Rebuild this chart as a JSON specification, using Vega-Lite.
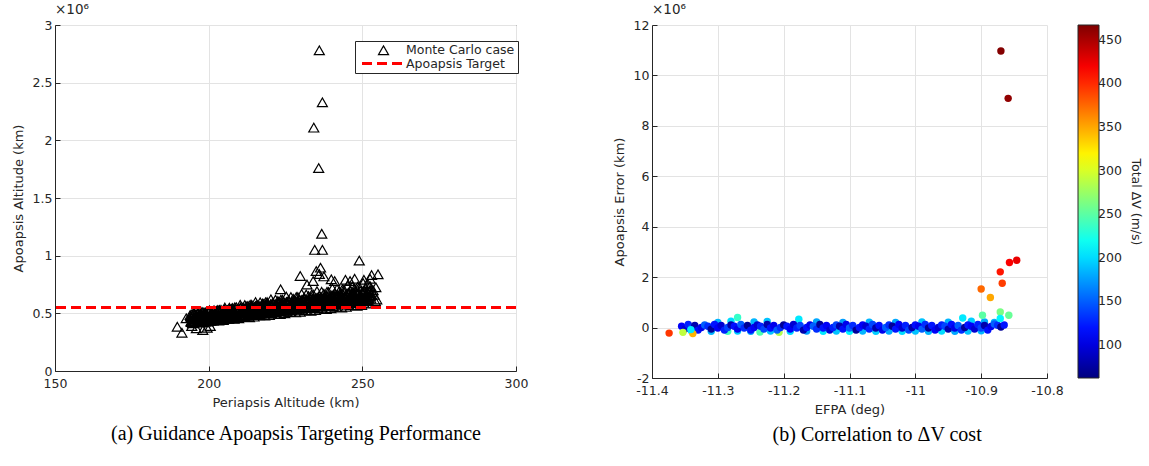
{
  "$schema": "https://vega.github.io/schema/vega-lite/v6.json",
  "background": "white",
  "padding": {"left": 11, "top": 2, "right": 3, "bottom": 5},
  "config": {
    "font": "DejaVu Sans",
    "axis": {
      "labelFont": "DejaVu Sans", "titleFont": "DejaVu Sans",
      "labelFontSize": 12.5, "titleFontSize": 13, "titleFontWeight": "normal",
      "labelColor": "#262626", "titleColor": "#262626",
      "gridColor": "#e3e3e3", "gridWidth": 1,
      "tickColor": "#262626", "domainColor": "#262626",
      "tickSize": -5, "labelPadding": 8, "titlePadding": 7, "labelFlush": false
    },
    "axisX": {"labelPadding": 11}
  },
  "datasets": {
    "apo": [
      {"peri":194,"apo":0.486},{"peri":194.25,"apo":0.431},{"peri":194.5,"apo":0.458},{"peri":194.75,"apo":0.413},
      {"peri":195,"apo":0.448},{"peri":195.25,"apo":0.503},{"peri":195.5,"apo":0.426},{"peri":195.75,"apo":0.476},
      {"peri":196,"apo":0.485},{"peri":196.25,"apo":0.456},{"peri":196.5,"apo":0.424},{"peri":196.75,"apo":0.503},
      {"peri":197,"apo":0.436},{"peri":197.25,"apo":0.476},{"peri":197.5,"apo":0.497},{"peri":197.75,"apo":0.447},
      {"peri":198,"apo":0.467},{"peri":198.25,"apo":0.423},{"peri":198.5,"apo":0.507},{"peri":198.75,"apo":0.460},
      {"peri":199,"apo":0.508},{"peri":199.25,"apo":0.447},{"peri":199.5,"apo":0.476},{"peri":199.75,"apo":0.428},
      {"peri":200,"apo":0.464},{"peri":200.25,"apo":0.526},{"peri":200.5,"apo":0.440},{"peri":200.75,"apo":0.496},
      {"peri":201,"apo":0.506},{"peri":201.25,"apo":0.473},{"peri":201.5,"apo":0.438},{"peri":201.75,"apo":0.526},
      {"peri":202,"apo":0.452},{"peri":202.25,"apo":0.496},{"peri":202.5,"apo":0.519},{"peri":202.75,"apo":0.464},
      {"peri":203,"apo":0.485},{"peri":203.25,"apo":0.437},{"peri":203.5,"apo":0.529},{"peri":203.75,"apo":0.477},
      {"peri":204,"apo":0.530},{"peri":204.25,"apo":0.463},{"peri":204.5,"apo":0.494},{"peri":204.75,"apo":0.442},
      {"peri":205,"apo":0.481},{"peri":205.25,"apo":0.550},{"peri":205.5,"apo":0.456},{"peri":205.75,"apo":0.516},
      {"peri":206,"apo":0.527},{"peri":206.25,"apo":0.490},{"peri":206.5,"apo":0.453},{"peri":206.75,"apo":0.549},
      {"peri":207,"apo":0.467},{"peri":207.25,"apo":0.515},{"peri":207.5,"apo":0.540},{"peri":207.75,"apo":0.480},
      {"peri":208,"apo":0.502},{"peri":208.25,"apo":0.452},{"peri":208.5,"apo":0.552},{"peri":208.75,"apo":0.494},
      {"peri":209,"apo":0.552},{"peri":209.25,"apo":0.479},{"peri":209.5,"apo":0.512},{"peri":209.75,"apo":0.457},
      {"peri":210,"apo":0.498},{"peri":210.25,"apo":0.574},{"peri":210.5,"apo":0.471},{"peri":210.75,"apo":0.536},
      {"peri":211,"apo":0.548},{"peri":211.25,"apo":0.507},{"peri":211.5,"apo":0.468},{"peri":211.75,"apo":0.572},
      {"peri":212,"apo":0.482},{"peri":212.25,"apo":0.534},{"peri":212.5,"apo":0.562},{"peri":212.75,"apo":0.496},
      {"peri":213,"apo":0.520},{"peri":213.25,"apo":0.465},{"peri":213.5,"apo":0.574},{"peri":213.75,"apo":0.511},
      {"peri":214,"apo":0.574},{"peri":214.25,"apo":0.494},{"peri":214.5,"apo":0.530},{"peri":214.75,"apo":0.471},
      {"peri":215,"apo":0.515},{"peri":215.25,"apo":0.598},{"peri":215.5,"apo":0.486},{"peri":215.75,"apo":0.557},
      {"peri":216,"apo":0.568},{"peri":216.25,"apo":0.524},{"peri":216.5,"apo":0.483},{"peri":216.75,"apo":0.595},
      {"peri":217,"apo":0.498},{"peri":217.25,"apo":0.553},{"peri":217.5,"apo":0.584},{"peri":217.75,"apo":0.513},
      {"peri":218,"apo":0.537},{"peri":218.25,"apo":0.480},{"peri":218.5,"apo":0.596},{"peri":218.75,"apo":0.528},
      {"peri":219,"apo":0.597},{"peri":219.25,"apo":0.510},{"peri":219.5,"apo":0.549},{"peri":219.75,"apo":0.486},
      {"peri":220,"apo":0.532},{"peri":220.25,"apo":0.621},{"peri":220.5,"apo":0.501},{"peri":220.75,"apo":0.576},
      {"peri":221,"apo":0.589},{"peri":221.25,"apo":0.541},{"peri":221.5,"apo":0.497},{"peri":221.75,"apo":0.618},
      {"peri":222,"apo":0.513},{"peri":222.25,"apo":0.572},{"peri":222.5,"apo":0.606},{"peri":222.75,"apo":0.529},
      {"peri":223,"apo":0.555},{"peri":223.25,"apo":0.494},{"peri":223.5,"apo":0.618},{"peri":223.75,"apo":0.545},
      {"peri":224,"apo":0.618},{"peri":224.25,"apo":0.526},{"peri":224.5,"apo":0.567},{"peri":224.75,"apo":0.500},
      {"peri":225,"apo":0.549},{"peri":225.25,"apo":0.645},{"peri":225.5,"apo":0.516},{"peri":225.75,"apo":0.597},
      {"peri":226,"apo":0.610},{"peri":226.25,"apo":0.558},{"peri":226.5,"apo":0.512},{"peri":226.75,"apo":0.641},
      {"peri":227,"apo":0.528},{"peri":227.25,"apo":0.591},{"peri":227.5,"apo":0.627},{"peri":227.75,"apo":0.545},
      {"peri":228,"apo":0.572},{"peri":228.25,"apo":0.508},{"peri":228.5,"apo":0.641},{"peri":228.75,"apo":0.562},
      {"peri":229,"apo":0.641},{"peri":229.25,"apo":0.542},{"peri":229.5,"apo":0.585},{"peri":229.75,"apo":0.514},
      {"peri":230,"apo":0.565},{"peri":230.25,"apo":0.668},{"peri":230.5,"apo":0.531},{"peri":230.75,"apo":0.617},
      {"peri":231,"apo":0.631},{"peri":231.25,"apo":0.576},{"peri":231.5,"apo":0.527},{"peri":231.75,"apo":0.664},
      {"peri":232,"apo":0.544},{"peri":232.25,"apo":0.610},{"peri":232.5,"apo":0.649},{"peri":232.75,"apo":0.562},
      {"peri":233,"apo":0.590},{"peri":233.25,"apo":0.522},{"peri":233.5,"apo":0.663},{"peri":233.75,"apo":0.579},
      {"peri":234,"apo":0.662},{"peri":234.25,"apo":0.557},{"peri":234.5,"apo":0.603},{"peri":234.75,"apo":0.528},
      {"peri":235,"apo":0.582},{"peri":235.25,"apo":0.692},{"peri":235.5,"apo":0.546},{"peri":235.75,"apo":0.637},
      {"peri":236,"apo":0.651},{"peri":236.25,"apo":0.593},{"peri":236.5,"apo":0.542},{"peri":236.75,"apo":0.687},
      {"peri":237,"apo":0.559},{"peri":237.25,"apo":0.629},{"peri":237.5,"apo":0.670},{"peri":237.75,"apo":0.578},
      {"peri":238,"apo":0.607},{"peri":238.25,"apo":0.537},{"peri":238.5,"apo":0.686},{"peri":238.75,"apo":0.596},
      {"peri":239,"apo":0.685},{"peri":239.25,"apo":0.573},{"peri":239.5,"apo":0.621},{"peri":239.75,"apo":0.543},
      {"peri":240,"apo":0.599},{"peri":240.25,"apo":0.716},{"peri":240.5,"apo":0.561},{"peri":240.75,"apo":0.657},
      {"peri":241,"apo":0.672},{"peri":241.25,"apo":0.610},{"peri":241.5,"apo":0.556},{"peri":241.75,"apo":0.710},
      {"peri":242,"apo":0.575},{"peri":242.25,"apo":0.649},{"peri":242.5,"apo":0.693},{"peri":242.75,"apo":0.594},
      {"peri":243,"apo":0.625},{"peri":243.25,"apo":0.550},{"peri":243.5,"apo":0.708},{"peri":243.75,"apo":0.613},
      {"peri":244,"apo":0.706},{"peri":244.25,"apo":0.589},{"peri":244.5,"apo":0.639},{"peri":244.75,"apo":0.557},
      {"peri":245,"apo":0.616},{"peri":245.25,"apo":0.740},{"peri":245.5,"apo":0.576},{"peri":245.75,"apo":0.677},
      {"peri":246,"apo":0.693},{"peri":246.25,"apo":0.627},{"peri":246.5,"apo":0.571},{"peri":246.75,"apo":0.733},
      {"peri":247,"apo":0.590},{"peri":247.25,"apo":0.668},{"peri":247.5,"apo":0.714},{"peri":247.75,"apo":0.610},
      {"peri":248,"apo":0.642},{"peri":248.25,"apo":0.565},{"peri":248.5,"apo":0.731},{"peri":248.75,"apo":0.630},
      {"peri":249,"apo":0.729},{"peri":249.25,"apo":0.605},{"peri":249.5,"apo":0.657},{"peri":249.75,"apo":0.572},
      {"peri":250,"apo":0.632},{"peri":250.25,"apo":0.763},{"peri":250.5,"apo":0.591},{"peri":250.75,"apo":0.697},
      {"peri":251,"apo":0.714},{"peri":251.25,"apo":0.644},{"peri":251.5,"apo":0.585},{"peri":251.75,"apo":0.756},
      {"peri":252,"apo":0.606},{"peri":252.25,"apo":0.687},{"peri":252.5,"apo":0.736},{"peri":252.75,"apo":0.627},
      {"peri":194.125,"apo":0.475},{"peri":194.375,"apo":0.425},{"peri":194.625,"apo":0.495},{"peri":194.875,"apo":0.445},
      {"peri":195.125,"apo":0.459},{"peri":195.375,"apo":0.419},{"peri":195.625,"apo":0.489},{"peri":195.875,"apo":0.479},
      {"peri":196.125,"apo":0.432},{"peri":196.375,"apo":0.502},{"peri":196.625,"apo":0.452},{"peri":196.875,"apo":0.462},
      {"peri":197.125,"apo":0.426},{"peri":197.375,"apo":0.496},{"peri":197.625,"apo":0.486},{"peri":197.875,"apo":0.436},
      {"peri":198.125,"apo":0.509},{"peri":198.375,"apo":0.459},{"peri":198.625,"apo":0.469},{"peri":198.875,"apo":0.429},
      {"peri":199.125,"apo":0.503},{"peri":199.375,"apo":0.493},{"peri":199.625,"apo":0.443},{"peri":199.875,"apo":0.513},
      {"peri":200.125,"apo":0.466},{"peri":200.375,"apo":0.476},{"peri":200.625,"apo":0.436},{"peri":200.875,"apo":0.506},
      {"peri":201.125,"apo":0.500},{"peri":201.375,"apo":0.450},{"peri":201.625,"apo":0.520},{"peri":201.875,"apo":0.470},
      {"peri":202.125,"apo":0.483},{"peri":202.375,"apo":0.443},{"peri":202.625,"apo":0.513},{"peri":202.875,"apo":0.503},
      {"peri":203.125,"apo":0.457},{"peri":203.375,"apo":0.527},{"peri":203.625,"apo":0.477},{"peri":203.875,"apo":0.487},
      {"peri":204.125,"apo":0.450},{"peri":204.375,"apo":0.520},{"peri":204.625,"apo":0.510},{"peri":204.875,"apo":0.460},
      {"peri":205.125,"apo":0.534},{"peri":205.375,"apo":0.484},{"peri":205.625,"apo":0.494},{"peri":205.875,"apo":0.454},
      {"peri":206.125,"apo":0.527},{"peri":206.375,"apo":0.517},{"peri":206.625,"apo":0.467},{"peri":206.875,"apo":0.537},
      {"peri":207.125,"apo":0.491},{"peri":207.375,"apo":0.501},{"peri":207.625,"apo":0.461},{"peri":207.875,"apo":0.531},
      {"peri":208.125,"apo":0.524},{"peri":208.375,"apo":0.474},{"peri":208.625,"apo":0.544},{"peri":208.875,"apo":0.494},
      {"peri":209.125,"apo":0.508},{"peri":209.375,"apo":0.468},{"peri":209.625,"apo":0.538},{"peri":209.875,"apo":0.528},
      {"peri":210.125,"apo":0.481},{"peri":210.375,"apo":0.551},{"peri":210.625,"apo":0.501},{"peri":210.875,"apo":0.511},
      {"peri":211.125,"apo":0.475},{"peri":211.375,"apo":0.545},{"peri":211.625,"apo":0.535},{"peri":211.875,"apo":0.485},
      {"peri":212.125,"apo":0.558},{"peri":212.375,"apo":0.508},{"peri":212.625,"apo":0.518},{"peri":212.875,"apo":0.478},
      {"peri":213.125,"apo":0.552},{"peri":213.375,"apo":0.542},{"peri":213.625,"apo":0.492},{"peri":213.875,"apo":0.562},
      {"peri":214.125,"apo":0.515},{"peri":214.375,"apo":0.525},{"peri":214.625,"apo":0.485},{"peri":214.875,"apo":0.555},
      {"peri":215.125,"apo":0.549},{"peri":215.375,"apo":0.499},{"peri":215.625,"apo":0.569},{"peri":215.875,"apo":0.519},
      {"peri":216.125,"apo":0.532},{"peri":216.375,"apo":0.492},{"peri":216.625,"apo":0.562},{"peri":216.875,"apo":0.552},
      {"peri":217.125,"apo":0.506},{"peri":217.375,"apo":0.576},{"peri":217.625,"apo":0.526},{"peri":217.875,"apo":0.536},
      {"peri":218.125,"apo":0.499},{"peri":218.375,"apo":0.569},{"peri":218.625,"apo":0.559},{"peri":218.875,"apo":0.509},
      {"peri":219.125,"apo":0.583},{"peri":219.375,"apo":0.533},{"peri":219.625,"apo":0.543},{"peri":219.875,"apo":0.503},
      {"peri":220.125,"apo":0.576},{"peri":220.375,"apo":0.566},{"peri":220.625,"apo":0.516},{"peri":220.875,"apo":0.586},
      {"peri":221.125,"apo":0.540},{"peri":221.375,"apo":0.550},{"peri":221.625,"apo":0.510},{"peri":221.875,"apo":0.580},
      {"peri":222.125,"apo":0.573},{"peri":222.375,"apo":0.523},{"peri":222.625,"apo":0.593},{"peri":222.875,"apo":0.543},
      {"peri":223.125,"apo":0.557},{"peri":223.375,"apo":0.517},{"peri":223.625,"apo":0.587},{"peri":223.875,"apo":0.577},
      {"peri":224.125,"apo":0.530},{"peri":224.375,"apo":0.600},{"peri":224.625,"apo":0.550},{"peri":224.875,"apo":0.560},
      {"peri":225.125,"apo":0.524},{"peri":225.375,"apo":0.594},{"peri":225.625,"apo":0.584},{"peri":225.875,"apo":0.534},
      {"peri":226.125,"apo":0.607},{"peri":226.375,"apo":0.557},{"peri":226.625,"apo":0.567},{"peri":226.875,"apo":0.527},
      {"peri":227.125,"apo":0.601},{"peri":227.375,"apo":0.591},{"peri":227.625,"apo":0.541},{"peri":227.875,"apo":0.611},
      {"peri":228.125,"apo":0.564},{"peri":228.375,"apo":0.574},{"peri":228.625,"apo":0.534},{"peri":228.875,"apo":0.604},
      {"peri":229.125,"apo":0.598},{"peri":229.375,"apo":0.548},{"peri":229.625,"apo":0.618},{"peri":229.875,"apo":0.568},
      {"peri":230.125,"apo":0.581},{"peri":230.375,"apo":0.541},{"peri":230.625,"apo":0.611},{"peri":230.875,"apo":0.601},
      {"peri":231.125,"apo":0.555},{"peri":231.375,"apo":0.625},{"peri":231.625,"apo":0.575},{"peri":231.875,"apo":0.585},
      {"peri":232.125,"apo":0.548},{"peri":232.375,"apo":0.618},{"peri":232.625,"apo":0.608},{"peri":232.875,"apo":0.558},
      {"peri":233.125,"apo":0.632},{"peri":233.375,"apo":0.582},{"peri":233.625,"apo":0.592},{"peri":233.875,"apo":0.552},
      {"peri":234.125,"apo":0.625},{"peri":234.375,"apo":0.615},{"peri":234.625,"apo":0.565},{"peri":234.875,"apo":0.635},
      {"peri":235.125,"apo":0.589},{"peri":235.375,"apo":0.599},{"peri":235.625,"apo":0.559},{"peri":235.875,"apo":0.629},
      {"peri":236.125,"apo":0.622},{"peri":236.375,"apo":0.572},{"peri":236.625,"apo":0.642},{"peri":236.875,"apo":0.592},
      {"peri":237.125,"apo":0.606},{"peri":237.375,"apo":0.566},{"peri":237.625,"apo":0.636},{"peri":237.875,"apo":0.626},
      {"peri":238.125,"apo":0.579},{"peri":238.375,"apo":0.649},{"peri":238.625,"apo":0.599},{"peri":238.875,"apo":0.609},
      {"peri":239.125,"apo":0.573},{"peri":239.375,"apo":0.643},{"peri":239.625,"apo":0.633},{"peri":239.875,"apo":0.583},
      {"peri":240.125,"apo":0.656},{"peri":240.375,"apo":0.606},{"peri":240.625,"apo":0.616},{"peri":240.875,"apo":0.576},
      {"peri":241.125,"apo":0.650},{"peri":241.375,"apo":0.640},{"peri":241.625,"apo":0.590},{"peri":241.875,"apo":0.660},
      {"peri":242.125,"apo":0.613},{"peri":242.375,"apo":0.623},{"peri":242.625,"apo":0.583},{"peri":242.875,"apo":0.653},
      {"peri":243.125,"apo":0.647},{"peri":243.375,"apo":0.597},{"peri":243.625,"apo":0.667},{"peri":243.875,"apo":0.617},
      {"peri":244.125,"apo":0.630},{"peri":244.375,"apo":0.590},{"peri":244.625,"apo":0.660},{"peri":244.875,"apo":0.650},
      {"peri":245.125,"apo":0.604},{"peri":245.375,"apo":0.674},{"peri":245.625,"apo":0.624},{"peri":245.875,"apo":0.634},
      {"peri":246.125,"apo":0.597},{"peri":246.375,"apo":0.667},{"peri":246.625,"apo":0.657},{"peri":246.875,"apo":0.607},
      {"peri":247.125,"apo":0.681},{"peri":247.375,"apo":0.631},{"peri":247.625,"apo":0.641},{"peri":247.875,"apo":0.601},
      {"peri":248.125,"apo":0.674},{"peri":248.375,"apo":0.664},{"peri":248.625,"apo":0.614},{"peri":248.875,"apo":0.684},
      {"peri":249.125,"apo":0.638},{"peri":249.375,"apo":0.648},{"peri":249.625,"apo":0.608},{"peri":249.875,"apo":0.678},
      {"peri":250.125,"apo":0.671},{"peri":250.375,"apo":0.621},{"peri":250.625,"apo":0.691},{"peri":250.875,"apo":0.641},
      {"peri":251.125,"apo":0.655},{"peri":251.375,"apo":0.615},{"peri":251.625,"apo":0.685},{"peri":251.875,"apo":0.675},
      {"peri":252.125,"apo":0.628},{"peri":252.375,"apo":0.698},{"peri":252.625,"apo":0.648},{"peri":252.875,"apo":0.658},
      {"peri":194.3,"apo":0.465},{"peri":194.8,"apo":0.430},{"peri":195.3,"apo":0.494},{"peri":195.8,"apo":0.454},
      {"peri":196.3,"apo":0.422},{"peri":196.8,"apo":0.482},{"peri":197.3,"apo":0.466},{"peri":197.8,"apo":0.511},
      {"peri":198.3,"apo":0.454},{"peri":198.8,"apo":0.499},{"peri":199.3,"apo":0.483},{"peri":199.8,"apo":0.448},
      {"peri":200.3,"apo":0.511},{"peri":200.8,"apo":0.471},{"peri":201.3,"apo":0.440},{"peri":201.8,"apo":0.500},
      {"peri":202.3,"apo":0.483},{"peri":202.8,"apo":0.528},{"peri":203.3,"apo":0.472},{"peri":203.8,"apo":0.517},
      {"peri":204.3,"apo":0.500},{"peri":204.8,"apo":0.465},{"peri":205.3,"apo":0.529},{"peri":205.8,"apo":0.489},
      {"peri":206.3,"apo":0.457},{"peri":206.8,"apo":0.517},{"peri":207.3,"apo":0.501},{"peri":207.8,"apo":0.546},
      {"peri":208.3,"apo":0.489},{"peri":208.8,"apo":0.534},{"peri":209.3,"apo":0.518},{"peri":209.8,"apo":0.483},
      {"peri":210.3,"apo":0.546},{"peri":210.8,"apo":0.506},{"peri":211.3,"apo":0.475},{"peri":211.8,"apo":0.535},
      {"peri":212.3,"apo":0.518},{"peri":212.8,"apo":0.563},{"peri":213.3,"apo":0.507},{"peri":213.8,"apo":0.552},
      {"peri":214.3,"apo":0.535},{"peri":214.8,"apo":0.500},{"peri":215.3,"apo":0.564},{"peri":215.8,"apo":0.524},
      {"peri":216.3,"apo":0.492},{"peri":216.8,"apo":0.552},{"peri":217.3,"apo":0.536},{"peri":217.8,"apo":0.581},
      {"peri":218.3,"apo":0.524},{"peri":218.8,"apo":0.569},{"peri":219.3,"apo":0.553},{"peri":219.8,"apo":0.518},
      {"peri":220.3,"apo":0.581},{"peri":220.8,"apo":0.541},{"peri":221.3,"apo":0.510},{"peri":221.8,"apo":0.570},
      {"peri":222.3,"apo":0.553},{"peri":222.8,"apo":0.598},{"peri":223.3,"apo":0.542},{"peri":223.8,"apo":0.587},
      {"peri":224.3,"apo":0.570},{"peri":224.8,"apo":0.535},{"peri":225.3,"apo":0.599},{"peri":225.8,"apo":0.559},
      {"peri":226.3,"apo":0.527},{"peri":226.8,"apo":0.587},{"peri":227.3,"apo":0.571},{"peri":227.8,"apo":0.616},
      {"peri":228.3,"apo":0.559},{"peri":228.8,"apo":0.604},{"peri":229.3,"apo":0.588},{"peri":229.8,"apo":0.553},
      {"peri":230.3,"apo":0.616},{"peri":230.8,"apo":0.576},{"peri":231.3,"apo":0.545},{"peri":231.8,"apo":0.605},
      {"peri":232.3,"apo":0.588},{"peri":232.8,"apo":0.633},{"peri":233.3,"apo":0.577},{"peri":233.8,"apo":0.622},
      {"peri":234.3,"apo":0.605},{"peri":234.8,"apo":0.570},{"peri":235.3,"apo":0.634},{"peri":235.8,"apo":0.594},
      {"peri":236.3,"apo":0.562},{"peri":236.8,"apo":0.622},{"peri":237.3,"apo":0.606},{"peri":237.8,"apo":0.651},
      {"peri":238.3,"apo":0.594},{"peri":238.8,"apo":0.639},{"peri":239.3,"apo":0.623},{"peri":239.8,"apo":0.588},
      {"peri":240.3,"apo":0.651},{"peri":240.8,"apo":0.611},{"peri":241.3,"apo":0.580},{"peri":241.8,"apo":0.640},
      {"peri":242.3,"apo":0.623},{"peri":242.8,"apo":0.668},{"peri":243.3,"apo":0.612},{"peri":243.8,"apo":0.657},
      {"peri":244.3,"apo":0.640},{"peri":244.8,"apo":0.605},{"peri":245.3,"apo":0.669},{"peri":245.8,"apo":0.629},
      {"peri":246.3,"apo":0.597},{"peri":246.8,"apo":0.657},{"peri":247.3,"apo":0.641},{"peri":247.8,"apo":0.686},
      {"peri":248.3,"apo":0.629},{"peri":248.8,"apo":0.674},{"peri":249.3,"apo":0.658},{"peri":249.8,"apo":0.623},
      {"peri":250.3,"apo":0.686},{"peri":250.8,"apo":0.646},{"peri":251.3,"apo":0.615},{"peri":251.8,"apo":0.675},
      {"peri":252.3,"apo":0.658},{"peri":252.8,"apo":0.703},
      {"peri":236,"apo":2.78},{"peri":237,"apo":2.33},{"peri":234.2,"apo":2.11},{"peri":235.8,"apo":1.76},
      {"peri":236.8,"apo":1.19},{"peri":234.5,"apo":1.05},{"peri":237,"apo":1.05},{"peri":249,"apo":0.957},
      {"peri":236.4,"apo":0.896},{"peri":235,"apo":0.867},{"peri":229.8,"apo":0.824},{"peri":255.1,"apo":0.838},
      {"peri":253,"apo":0.832},{"peri":239.9,"apo":0.795},{"peri":223.4,"apo":0.708},{"peri":189.8,"apo":0.384},
      {"peri":191.3,"apo":0.332},{"peri":198.1,"apo":0.355},{"peri":192.7,"apo":0.457},{"peri":254.4,"apo":0.725},
      {"peri":254.2,"apo":0.607},{"peri":236,"apo":0.84},{"peri":237.5,"apo":0.82},{"peri":241,"apo":0.78},
      {"peri":244.5,"apo":0.79},{"peri":247.5,"apo":0.80},{"peri":250.5,"apo":0.79},{"peri":252.5,"apo":0.80},
      {"peri":253.5,"apo":0.70},{"peri":253.8,"apo":0.66},{"peri":254.7,"apo":0.62},{"peri":194.5,"apo":0.39},
      {"peri":196,"apo":0.37},{"peri":199.5,"apo":0.375},{"peri":200.5,"apo":0.39},{"peri":232,"apo":0.75},
      {"peri":234,"apo":0.78},{"peri":246,"apo":0.78}
    ],
    "target": [{"apoTarget": 0.55}],
    "efpa": [
      {"efpa":-11.34,"err":-0.14,"dv":200},{"efpa":-11.31,"err":-0.15,"dv":185},{"efpa":-11.285,"err":-0.15,"dv":240},
      {"efpa":-11.27,"err":-0.14,"dv":195},{"efpa":-11.25,"err":-0.15,"dv":180},{"efpa":-11.236,"err":-0.18,"dv":245},
      {"efpa":-11.22,"err":-0.14,"dv":190},{"efpa":-11.207,"err":-0.19,"dv":285},{"efpa":-11.19,"err":-0.15,"dv":200},
      {"efpa":-11.165,"err":-0.14,"dv":175},{"efpa":-11.14,"err":-0.15,"dv":205},{"efpa":-11.12,"err":-0.14,"dv":190},
      {"efpa":-11.10,"err":-0.15,"dv":210},{"efpa":-11.08,"err":-0.14,"dv":185},{"efpa":-11.06,"err":-0.15,"dv":195},
      {"efpa":-11.04,"err":-0.14,"dv":180},{"efpa":-11.02,"err":-0.15,"dv":200},{"efpa":-11.00,"err":-0.14,"dv":190},
      {"efpa":-10.98,"err":-0.15,"dv":185},{"efpa":-10.96,"err":-0.14,"dv":200},{"efpa":-10.94,"err":-0.15,"dv":180},
      {"efpa":-10.92,"err":-0.14,"dv":190},{"efpa":-10.90,"err":-0.13,"dv":185},
      {"efpa":-11.30,"err":0.2,"dv":185},{"efpa":-11.28,"err":0.25,"dv":200},{"efpa":-11.245,"err":0.22,"dv":185},
      {"efpa":-11.225,"err":0.24,"dv":190},{"efpa":-11.177,"err":0.33,"dv":205},{"efpa":-11.15,"err":0.22,"dv":180},
      {"efpa":-11.11,"err":0.2,"dv":175},{"efpa":-11.07,"err":0.21,"dv":185},{"efpa":-11.03,"err":0.2,"dv":180},
      {"efpa":-10.99,"err":0.22,"dv":190},{"efpa":-10.95,"err":0.21,"dv":185},{"efpa":-10.928,"err":0.38,"dv":205},
      {"efpa":-10.915,"err":0.25,"dv":195},{"efpa":-10.895,"err":0.22,"dv":180},{"efpa":-10.88,"err":0.2,"dv":185},
      {"efpa":-11.355,"err":0.05,"dv":110},{"efpa":-11.35,"err":-0.06,"dv":95},{"efpa":-11.345,"err":0.12,"dv":125},
      {"efpa":-11.34,"err":-0.02,"dv":140},{"efpa":-11.335,"err":0.08,"dv":80},{"efpa":-11.33,"err":-0.1,"dv":118},
      {"efpa":-11.325,"err":0.0,"dv":105},{"efpa":-11.32,"err":0.1,"dv":150},{"efpa":-11.315,"err":0.05,"dv":130},
      {"efpa":-11.31,"err":-0.06,"dv":72},{"efpa":-11.305,"err":0.12,"dv":120},{"efpa":-11.3,"err":-0.02,"dv":110},
      {"efpa":-11.295,"err":0.08,"dv":95},{"efpa":-11.29,"err":-0.1,"dv":125},{"efpa":-11.285,"err":0.0,"dv":140},
      {"efpa":-11.28,"err":0.1,"dv":80},{"efpa":-11.275,"err":0.05,"dv":118},{"efpa":-11.27,"err":-0.06,"dv":105},
      {"efpa":-11.265,"err":0.12,"dv":150},{"efpa":-11.26,"err":-0.02,"dv":130},{"efpa":-11.255,"err":0.08,"dv":72},
      {"efpa":-11.25,"err":-0.1,"dv":120},{"efpa":-11.245,"err":0.0,"dv":110},{"efpa":-11.24,"err":0.1,"dv":95},
      {"efpa":-11.235,"err":0.05,"dv":125},{"efpa":-11.23,"err":-0.06,"dv":140},{"efpa":-11.225,"err":0.12,"dv":80},
      {"efpa":-11.22,"err":-0.02,"dv":118},{"efpa":-11.215,"err":0.08,"dv":105},{"efpa":-11.21,"err":-0.1,"dv":150},
      {"efpa":-11.205,"err":0.0,"dv":130},{"efpa":-11.2,"err":0.1,"dv":72},{"efpa":-11.195,"err":0.05,"dv":120},
      {"efpa":-11.19,"err":-0.06,"dv":110},{"efpa":-11.185,"err":0.12,"dv":95},{"efpa":-11.18,"err":-0.02,"dv":125},
      {"efpa":-11.175,"err":0.08,"dv":140},{"efpa":-11.17,"err":-0.1,"dv":80},{"efpa":-11.165,"err":0.0,"dv":118},
      {"efpa":-11.16,"err":0.1,"dv":105},{"efpa":-11.155,"err":0.05,"dv":150},{"efpa":-11.15,"err":-0.06,"dv":130},
      {"efpa":-11.145,"err":0.12,"dv":72},{"efpa":-11.14,"err":-0.02,"dv":120},{"efpa":-11.135,"err":0.08,"dv":110},
      {"efpa":-11.13,"err":-0.1,"dv":95},{"efpa":-11.125,"err":0.0,"dv":125},{"efpa":-11.12,"err":0.1,"dv":140},
      {"efpa":-11.115,"err":0.05,"dv":80},{"efpa":-11.11,"err":-0.06,"dv":118},{"efpa":-11.105,"err":0.12,"dv":105},
      {"efpa":-11.1,"err":-0.02,"dv":150},{"efpa":-11.095,"err":0.08,"dv":130},{"efpa":-11.09,"err":-0.1,"dv":72},
      {"efpa":-11.085,"err":0.0,"dv":120},{"efpa":-11.08,"err":0.1,"dv":110},{"efpa":-11.075,"err":0.05,"dv":95},
      {"efpa":-11.07,"err":-0.06,"dv":125},{"efpa":-11.065,"err":0.12,"dv":140},{"efpa":-11.06,"err":-0.02,"dv":80},
      {"efpa":-11.055,"err":0.08,"dv":118},{"efpa":-11.05,"err":-0.1,"dv":105},{"efpa":-11.045,"err":0.0,"dv":150},
      {"efpa":-11.04,"err":0.1,"dv":130},{"efpa":-11.035,"err":0.05,"dv":72},{"efpa":-11.03,"err":-0.06,"dv":120},
      {"efpa":-11.025,"err":0.12,"dv":110},{"efpa":-11.02,"err":-0.02,"dv":95},{"efpa":-11.015,"err":0.08,"dv":125},
      {"efpa":-11.01,"err":-0.1,"dv":140},{"efpa":-11.005,"err":0.0,"dv":80},{"efpa":-11.0,"err":0.1,"dv":118},
      {"efpa":-10.995,"err":0.05,"dv":105},{"efpa":-10.99,"err":-0.06,"dv":150},{"efpa":-10.985,"err":0.12,"dv":130},
      {"efpa":-10.98,"err":-0.02,"dv":72},{"efpa":-10.975,"err":0.08,"dv":120},{"efpa":-10.97,"err":-0.1,"dv":110},
      {"efpa":-10.965,"err":0.0,"dv":95},{"efpa":-10.96,"err":0.1,"dv":125},{"efpa":-10.955,"err":0.05,"dv":140},
      {"efpa":-10.95,"err":-0.06,"dv":80},{"efpa":-10.945,"err":0.12,"dv":118},{"efpa":-10.94,"err":-0.02,"dv":105},
      {"efpa":-10.935,"err":0.08,"dv":150},{"efpa":-10.93,"err":-0.1,"dv":130},{"efpa":-10.925,"err":0.0,"dv":72},
      {"efpa":-10.92,"err":0.1,"dv":120},{"efpa":-10.915,"err":0.05,"dv":110},{"efpa":-10.91,"err":-0.06,"dv":95},
      {"efpa":-10.905,"err":0.12,"dv":125},{"efpa":-10.9,"err":-0.02,"dv":140},{"efpa":-10.895,"err":0.08,"dv":80},
      {"efpa":-10.89,"err":-0.1,"dv":118},{"efpa":-10.885,"err":0.04,"dv":105},{"efpa":-10.88,"err":0.14,"dv":150},
      {"efpa":-10.875,"err":0.09,"dv":130},{"efpa":-10.87,"err":0.02,"dv":72},{"efpa":-10.865,"err":0.1,"dv":120},
      {"efpa":-10.870,"err":10.97,"dv":465},{"efpa":-10.859,"err":9.09,"dv":460},{"efpa":-10.846,"err":2.67,"dv":425},
      {"efpa":-10.857,"err":2.58,"dv":418},{"efpa":-10.871,"err":2.21,"dv":408},{"efpa":-10.868,"err":1.76,"dv":392},
      {"efpa":-10.900,"err":1.53,"dv":375},{"efpa":-10.886,"err":1.19,"dv":350},{"efpa":-10.871,"err":0.62,"dv":262},
      {"efpa":-10.898,"err":0.49,"dv":250},{"efpa":-10.858,"err":0.49,"dv":255},{"efpa":-10.871,"err":0.36,"dv":210},
      {"efpa":-11.374,"err":-0.22,"dv":395},{"efpa":-11.353,"err":-0.19,"dv":290},{"efpa":-11.338,"err":-0.24,"dv":345},
      {"efpa":-11.341,"err":-0.08,"dv":205},{"efpa":-11.270,"err":0.40,"dv":235}
    ]
  },
  "spacing": 84,
  "hconcat": [
    {
      "title": {"text": "(a)  Guidance Apoapsis Targeting Performance", "orient": "bottom", "anchor": "middle", "font": "Liberation Serif", "fontSize": 20, "fontWeight": "normal", "color": "#000000", "offset": 14, "dx": 26},
      "vconcat": [
        {
          "width": 461,
          "height": 346,
          "title": {"text": "×10⁶", "anchor": "start", "frame": "group", "orient": "top", "font": "DejaVu Sans", "fontSize": 13.5, "fontWeight": "normal", "color": "#262626", "offset": 3},
          "view": {"stroke": "#262626", "strokeWidth": 1},
          "layer": [
            {
              "data": {"name": "apo"},
              "mark": {"type": "point", "filled": false, "size": 100, "strokeWidth": 1.2, "opacity": 1, "color": "#000000"},
              "encoding": {
                "x": {"field": "peri", "type": "quantitative", "scale": {"domain": [150, 300], "nice": false, "zero": false},
                      "axis": {"title": "Periapsis Altitude (km)", "values": [150, 200, 250, 300]}},
                "y": {"field": "apo", "type": "quantitative", "scale": {"domain": [0, 3], "nice": false},
                      "axis": {"title": "Apoapsis Altitude (km)", "values": [0, 0.5, 1, 1.5, 2, 2.5, 3], "labelExpr": "toString(round(datum.value*10)/10)"}},
                "shape": {
                  "datum": "Monte Carlo case", "type": "nominal",
                  "scale": {"domain": ["Monte Carlo case", "Apoapsis Target"], "range": ["triangle-up", "M-4.3,0L4.3,0"]},
                  "legend": {
                    "title": null, "orient": "none", "legendX": 300, "legendY": 16,
                    "fillColor": "white", "strokeColor": "#262626", "padding": 3,
                    "labelFont": "DejaVu Sans", "labelFontSize": 12.5, "labelColor": "#262626",
                    "symbolSize": 100, "symbolOffset": 19, "labelOffset": 16, "rowPadding": 0, "symbolOpacity": 1
                  }
                }
              }
            },
            {
              "data": {"name": "target"},
              "mark": {"type": "rule"},
              "encoding": {
                "y": {"field": "apoTarget", "type": "quantitative"},
                "stroke": {
                  "datum": "Apoapsis Target", "type": "nominal",
                  "scale": {"domain": ["Monte Carlo case", "Apoapsis Target"], "range": ["#000000", "#ff0000"]},
                  "legend": {
                    "title": null, "orient": "none", "legendX": 300, "legendY": 16,
                    "fillColor": "white", "strokeColor": "#262626", "padding": 3,
                    "labelFont": "DejaVu Sans", "labelFontSize": 12.5, "labelColor": "#262626",
                    "symbolSize": 100, "symbolOffset": 19, "labelOffset": 16, "rowPadding": 0, "symbolOpacity": 1
                  }
                },
                "strokeDash": {
                  "datum": "Apoapsis Target", "type": "nominal",
                  "scale": {"domain": ["Monte Carlo case", "Apoapsis Target"], "range": [[1, 0], [10, 5]]},
                  "legend": {
                    "title": null, "orient": "none", "legendX": 300, "legendY": 16,
                    "fillColor": "white", "strokeColor": "#262626", "padding": 3,
                    "labelFont": "DejaVu Sans", "labelFontSize": 12.5, "labelColor": "#262626",
                    "symbolSize": 100, "symbolOffset": 19, "labelOffset": 16, "rowPadding": 0, "symbolOpacity": 1
                  }
                },
                "strokeWidth": {
                  "datum": "Apoapsis Target", "type": "ordinal",
                  "scale": {"type": "point", "domain": ["Monte Carlo case", "Apoapsis Target"], "range": [1.2, 3], "padding": 0},
                  "legend": {
                    "title": null, "orient": "none", "legendX": 300, "legendY": 16,
                    "fillColor": "white", "strokeColor": "#262626", "padding": 3,
                    "labelFont": "DejaVu Sans", "labelFontSize": 12.5, "labelColor": "#262626",
                    "symbolSize": 100, "symbolOffset": 19, "labelOffset": 16, "rowPadding": 0, "symbolOpacity": 1
                  }
                }
              }
            }
          ]
        }
      ]
    },
    {
      "title": {"text": "(b)  Correlation to ΔV cost", "orient": "bottom", "anchor": "middle", "font": "Liberation Serif", "fontSize": 20, "fontWeight": "normal", "color": "#000000", "offset": 8, "dx": 39},
      "vconcat": [
        {
          "width": 395,
          "height": 353,
          "title": {"text": "×10⁶", "anchor": "start", "frame": "group", "orient": "top", "font": "DejaVu Sans", "fontSize": 13.5, "fontWeight": "normal", "color": "#262626", "offset": 3},
          "view": {"stroke": null},
          "data": {"name": "efpa"},
          "mark": {"type": "circle", "size": 55, "opacity": 1},
          "encoding": {
            "x": {"field": "efpa", "type": "quantitative", "scale": {"domain": [-11.4, -10.8], "nice": false, "zero": false},
                  "axis": {"title": "EFPA (deg)", "values": [-11.4, -11.3, -11.2, -11.1, -11, -10.9, -10.8], "labelExpr": "toString(round(datum.value*10)/10)"}},
            "y": {"field": "err", "type": "quantitative", "scale": {"domain": [-2, 12], "nice": false, "zero": false},
                  "axis": {"title": "Apoapsis Error (km)", "values": [-2, 0, 2, 4, 6, 8, 10, 12], "labelExpr": "toString(datum.value)"}},
            "color": {
              "field": "dv", "type": "quantitative",
              "scale": {"domain": [62, 467], "nice": false, "zero": false, "interpolate": "rgb",
                        "range": ["#00007f", "#0000ff", "#007fff", "#00ffff", "#7fff7f", "#ffff00", "#ff7f00", "#ff0000", "#7f0000"]},
              "legend": {
                "title": "Total ΔV (m/s)", "orient": "right", "offset": 14, "direction": "vertical",
                "gradientLength": 353, "gradientThickness": 21,
                "gradientStrokeColor": "#262626", "gradientStrokeWidth": 1,
                "values": [100, 150, 200, 250, 300, 350, 400, 450],
                "labelFont": "DejaVu Sans", "labelFontSize": 12.5, "labelColor": "#262626", "labelOffset": -1, "labelOverlap": false,
                "titleOrient": "right", "titleAngle": 270, "titleAnchor": "middle", "titleBaseline": "top",
                "titleFont": "DejaVu Sans", "titleFontSize": 12.5, "titleFontWeight": "normal", "titleColor": "#262626", "titlePadding": 20,
                "padding": 0
              }
            }
          }
        }
      ]
    }
  ]
}
